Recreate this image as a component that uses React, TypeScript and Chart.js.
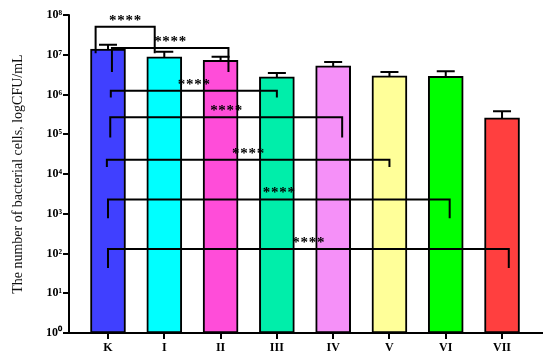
import React, { useEffect, useRef } from "react";
import { Chart, registerables } from "chart.js";

Chart.register(...registerables);

const categories = ["K", "I", "II", "III", "IV", "V", "VI", "VII"];
const values = [1.4e7, 8.9e6, 7.3e6, 2.8e6, 5.3e6, 2.96e6, 2.9e6, 2.6e5];
const errorTops = [1.8e7, 1.2e7, 9.0e6, 3.5e6, 6.6e6, 3.7e6, 3.9e6, 3.8e5];
const barColors = ["#4040FF", "#00FFFF", "#FF4DD9", "#00EEAA", "#F590F8", "#FFFF99", "#00FF00", "#FF3F3F"];
const yTickPowers = [0, 1, 2, 3, 4, 5, 6, 7, 8];
const supers = ["⁰", "¹", "²", "³", "⁴", "⁵", "⁶", "⁷", "⁸"];

// significance brackets: K vs group
const bracketTo = [1, 2, 3, 4, 5, 6, 7];
const bracketLevel = [5.1e7, 1.5e7, 1.25e6, 2.7e5, 2.3e4, 2.3e3, 1.3e2];
const bracketLegEnd = [1.1e7, 3.7e6, 8.5e5, 8.3e4, 1.5e4, 7.7e2, 43];
const bracketLeftShift = [-0.22, 0.07, 0.05, 0.04, -0.02, 0, 0];
const bracketRightShift = [-0.17, 0.14, 0, 0.16, 0, 0.07, 0.12];
const bracketLabel = ["****", "****", "****", "****", "****", "****", "****"];

const overlayPlugin = {
  id: "overlay",
  afterDraw(chart: any) {
    const ctx = chart.ctx;
    const xs = chart.scales.x;
    const ys = chart.scales.y;
    ctx.save();
    ctx.strokeStyle = "#000";
    ctx.lineWidth = 2;
    ctx.lineCap = "butt";
    // error bars
    values.forEach((v, i) => {
      const x = xs.getPixelForValue(i);
      const yb = ys.getPixelForValue(v);
      const yt = ys.getPixelForValue(errorTops[i]);
      ctx.beginPath();
      ctx.moveTo(x, yb);
      ctx.lineTo(x, yt);
      ctx.moveTo(x - 9, yt);
      ctx.lineTo(x + 9, yt);
      ctx.stroke();
    });
    // brackets
    ctx.font = "bold 15px 'Liberation Serif'";
    ctx.fillStyle = "#000";
    ctx.textAlign = "center";
    ctx.textBaseline = "alphabetic";
    bracketTo.forEach((to, i) => {
      const x1 = xs.getPixelForValue(0 + bracketLeftShift[i]);
      const x2 = xs.getPixelForValue(to + bracketRightShift[i]);
      const yl = ys.getPixelForValue(bracketLevel[i]);
      const ye = ys.getPixelForValue(bracketLegEnd[i]);
      ctx.beginPath();
      ctx.moveTo(x1, ye);
      ctx.lineTo(x1, yl);
      ctx.lineTo(x2, yl);
      ctx.lineTo(x2, ye);
      ctx.stroke();
      const chars = bracketLabel[i].split("");
      const sp = 8.2;
      const cx = (x1 + x2) / 2;
      chars.forEach((c, k) => {
        ctx.fillText(c, cx + (k - (chars.length - 1) / 2) * sp, yl - 2);
      });
    });
    // y axis line and tick marks
    const ax = Math.round(chart.chartArea.left) - 1;
    ctx.beginPath();
    ctx.moveTo(ax, ys.getPixelForValue(1e8) - 1);
    ctx.lineTo(ax, chart.chartArea.bottom + 1);
    yTickPowers.forEach((p) => {
      const y = Math.round(ys.getPixelForValue(Math.pow(10, p)));
      ctx.moveTo(ax - 6, y);
      ctx.lineTo(ax, y);
    });
    ctx.stroke();
    ctx.restore();
  },
};

export default function App() {
  const ref = useRef<HTMLCanvasElement>(null);
  useEffect(() => {
    if (!ref.current) return;
    const chart = new Chart(ref.current, {
      type: "bar",
      data: {
        datasets: [
          {
            data: values.map((v, i) => ({ x: i, y: v })),
            backgroundColor: barColors,
            borderColor: "#000",
            borderWidth: 2,
            borderSkipped: false,
            barThickness: 35,
          },
        ],
      },
      options: {
        animation: false,
        responsive: false,
        layout: { padding: { top: 14, right: 8, left: 0, bottom: 0 } },
        plugins: { legend: { display: false }, tooltip: { enabled: false } },
        scales: {
          x: {
            type: "linear",
            offset: false,
            min: -0.675,
            max: 7.71,
            afterFit: (s: any) => {
              s.height = 30;
            },
            afterBuildTicks: (s: any) => {
              s.ticks = categories.map((_, i) => ({ value: i }));
            },
            ticks: {
              callback: (v: any) => categories[v as number] ?? "",
              color: "#000",
              font: { family: "'Liberation Serif'", size: 12, weight: "bold" },
              padding: 2,
              maxRotation: 0,
              autoSkip: false,
            },
            grid: { offset: false, drawOnChartArea: false, drawTicks: true, tickLength: 6, color: "#000", lineWidth: 2 },
            border: { display: true, color: "#000", width: 2 },
          },
          y: {
            type: "logarithmic",
            min: 1,
            max: 1e8,
            afterFit: (s: any) => {
              s.width = 70;
            },
            afterBuildTicks: (s: any) => {
              s.ticks = yTickPowers.map((p) => ({ value: Math.pow(10, p) }));
            },
            ticks: {
              callback: (v: any) => "10" + supers[Math.round(Math.log10(v as number))],
              color: "#000",
              font: { family: "'Liberation Serif'", size: 12, weight: "bold" },
              padding: 8,
              autoSkip: false,
            },
            grid: { display: false, drawOnChartArea: false, drawTicks: false },
            border: { display: false },
            title: {
              display: true,
              text: "The number of bacterial cells, logCFU/mL",
              color: "#111",
              font: { family: "'Liberation Serif'", size: 14, weight: "normal" },
              padding: { top: 10, bottom: 0 },
            },
          },
        },
      },
      plugins: [overlayPlugin],
    });
    return () => chart.destroy();
  }, []);
  return (
    <div style={{ position: "fixed", left: 0, top: 0, width: 550, height: 363, background: "#fff" }}>
      <canvas ref={ref} width={550} height={363} />
    </div>
  );
}
